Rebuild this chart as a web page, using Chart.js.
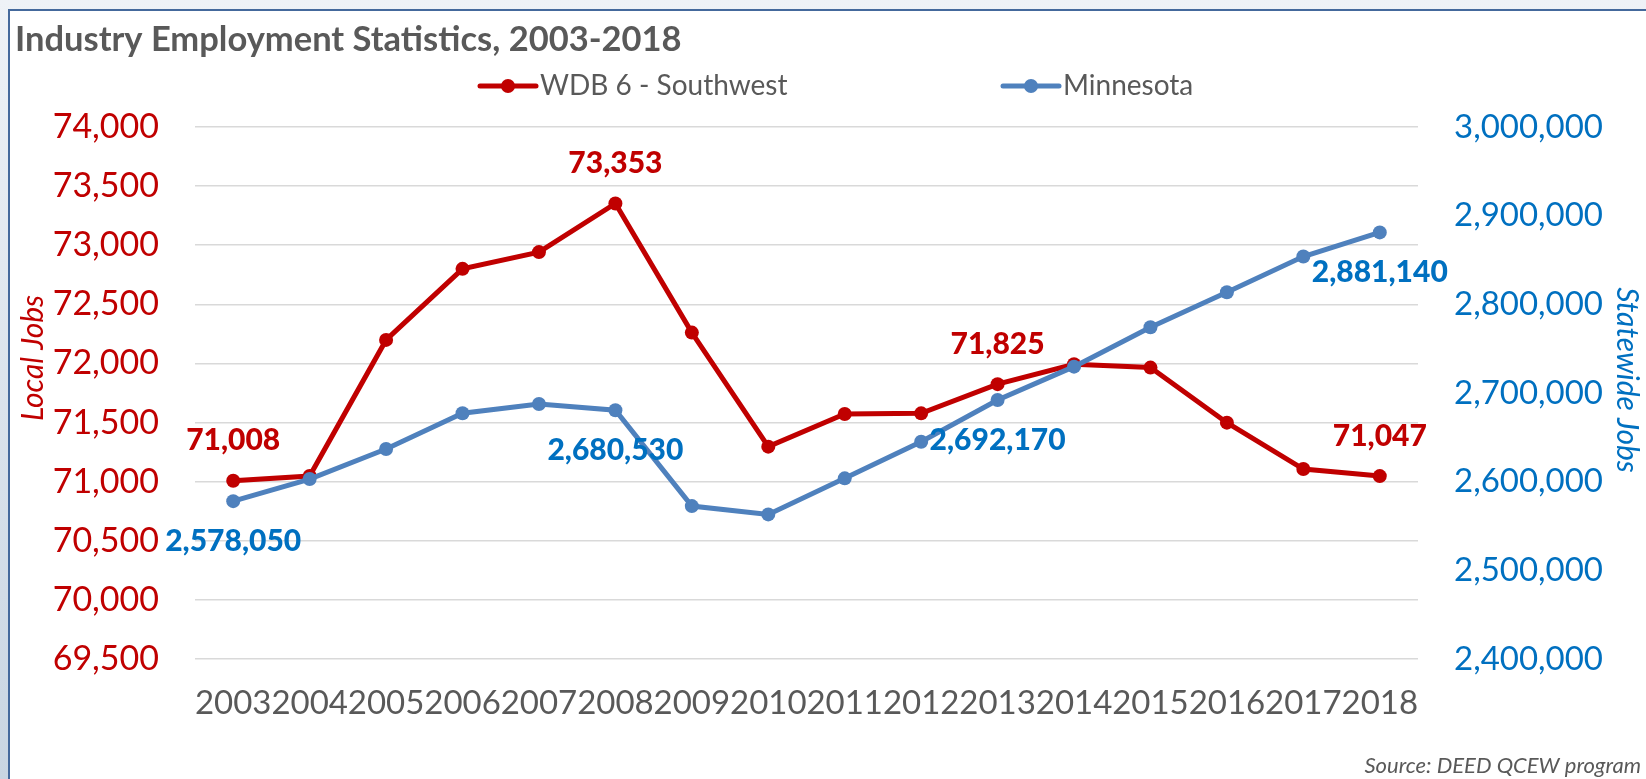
<!DOCTYPE html>
<html>
<head>
<meta charset="utf-8">
<script src="https://cdn.jsdelivr.net/npm/chart.js@4.4.1/dist/chart.umd.min.js"></script>
<style>
  html, body { margin: 0; padding: 0; overflow: hidden; }
  body { width: 1646px; height: 779px; background: linear-gradient(#eef2f7, #c8d5e2); }
  #frame { position: absolute; left: 8px; top: 9px; width: 1700px; height: 800px; background: #fff; border: 2px solid #44699c; }
  #c { position: absolute; left: 0; top: 0; }
</style>
</head>
<body>
<div id="frame"></div>
<canvas id="c" width="1646" height="779"></canvas>
<script>
// data
const years = ['2003', '2004', '2005', '2006', '2007', '2008', '2009', '2010',
               '2011', '2012', '2013', '2014', '2015', '2016', '2017', '2018'];
const southwest = [71008, 71048, 72199, 72800, 72942, 73353, 72261, 71296,
                   71573, 71578, 71825, 71993, 71965, 71499, 71107, 71047];
const minnesota = [2578050, 2602930, 2636800, 2677100, 2687600, 2680530, 2572450, 2563070,
                   2603730, 2645050, 2692170, 2729720, 2774200, 2813700, 2853900, 2881140];
const localTicks = [69500, 74000, 500];
const stateTicks = [2400000, 3000000, 100000];
const labelledPoints = [0, 5, 10, 15];

const RED = '#C00000';
const BLUE_LINE = '#4F81BD';
const BLUE_TEXT = '#0070C0';
const GREY = '#595959';
const FONT = 'Lato, "Open Sans", sans-serif';

const fmt = v => v.toLocaleString('en-US');

// title, legend, axis titles, source note and the point labels
const decorations = {
    id: 'decorations',
    afterDatasetsDraw(chart) {
        const ctx = chart.ctx;
        ctx.save();

        // point labels: local above, statewide below
        chart.data.datasets.forEach((ds, i) => {
            const meta = chart.getDatasetMeta(i);
            ctx.font = '900 30px ' + FONT;
            ctx.fillStyle = ds.labelColor;
            ctx.textAlign = 'center';
            ctx.textBaseline = 'middle';
            labelledPoints.forEach(idx => {
                const pt = meta.data[idx];
                ctx.fillText(fmt(ds.data[idx]), pt.x, pt.y + ds.labelShift);
            });
        });

        // title
        ctx.fillStyle = GREY;
        ctx.textAlign = 'left';
        ctx.textBaseline = 'middle';
        ctx.font = 'bold 34.5px ' + FONT;
        ctx.fillText('Industry Employment Statistics, 2003-2018', 15, 40);

        // legend
        const items = [
            { x: 480, ds: chart.data.datasets[1] },
            { x: 1003, ds: chart.data.datasets[0] }
        ];
        items.forEach(it => {
            const y = 86;
            ctx.strokeStyle = it.ds.borderColor;
            ctx.lineWidth = 5;
            ctx.lineCap = 'round';
            ctx.beginPath();
            ctx.moveTo(it.x, y);
            ctx.lineTo(it.x + 56, y);
            ctx.stroke();
            ctx.fillStyle = it.ds.borderColor;
            ctx.beginPath();
            ctx.arc(it.x + 28, y, 7, 0, Math.PI * 2);
            ctx.fill();
            ctx.fillStyle = GREY;
            ctx.font = '28px ' + FONT;
            ctx.fillText(it.ds.label, it.x + 60, y);
        });

        // axis titles
        ctx.font = 'italic 30px ' + FONT;
        ctx.textAlign = 'center';
        ctx.fillStyle = RED;
        ctx.save();
        ctx.translate(33, 358);
        ctx.rotate(-Math.PI / 2);
        ctx.fillText('Local Jobs', 0, 0);
        ctx.restore();
        ctx.fillStyle = BLUE_TEXT;
        ctx.save();
        ctx.translate(1627, 380);
        ctx.rotate(Math.PI / 2);
        ctx.fillText('Statewide Jobs', 0, 0);
        ctx.restore();

        // source
        ctx.font = 'italic 22px ' + FONT;
        ctx.fillStyle = GREY;
        ctx.textAlign = 'right';
        ctx.fillText('Source: DEED QCEW program', 1641, 766);

        ctx.restore();
    }
};

new Chart(document.getElementById('c'), {
    type: 'line',
    data: {
        labels: years,
        datasets: [
            {
                label: 'Minnesota',
                data: minnesota,
                yAxisID: 'yState',
                borderColor: BLUE_LINE,
                backgroundColor: BLUE_LINE,
                labelColor: BLUE_TEXT,
                labelShift: 40,
                borderWidth: 5,
                pointRadius: 7,
                pointBorderWidth: 0,
                tension: 0,
                order: 0
            },
            {
                label: 'WDB 6 - Southwest',
                data: southwest,
                yAxisID: 'yLocal',
                borderColor: RED,
                backgroundColor: RED,
                labelColor: RED,
                labelShift: -40,
                borderWidth: 5,
                pointRadius: 7,
                pointBorderWidth: 0,
                tension: 0,
                order: 1
            }
        ]
    },
    options: {
        responsive: false,
        animation: false,
        layout: { padding: { top: 127, left: 0, right: 0, bottom: 0 } },
        plugins: {
            legend: { display: false },
            title: { display: false },
            tooltip: { enabled: false }
        },
        scales: {
            x: {
                offset: true,
                grid: { display: false, drawTicks: false },
                border: { display: false },
                ticks: {
                    color: GREY,
                    font: { family: FONT, size: 33 },
                    padding: 25,
                    maxRotation: 0,
                    autoSkip: false
                },
                afterFit(scale) { scale.height = 120; }
            },
            yLocal: {
                position: 'left',
                min: localTicks[0],
                max: localTicks[1],
                border: { display: false },
                grid: { color: '#d9d9d9', lineWidth: 1.5, drawTicks: false },
                ticks: {
                    stepSize: localTicks[2],
                    color: RED,
                    font: { family: FONT, size: 34 },
                    padding: 36,
                    callback: v => fmt(v)
                },
                afterFit(scale) { scale.width = 195; }
            },
            yState: {
                position: 'right',
                min: stateTicks[0],
                max: stateTicks[1],
                border: { display: false },
                grid: { drawOnChartArea: false, drawTicks: false },
                ticks: {
                    stepSize: stateTicks[2],
                    color: BLUE_TEXT,
                    font: { family: FONT, size: 33 },
                    padding: 36,
                    callback: v => fmt(v)
                },
                afterFit(scale) { scale.width = 228; }
            }
        }
    },
    plugins: [decorations]
});
</script>
</body>
</html>
